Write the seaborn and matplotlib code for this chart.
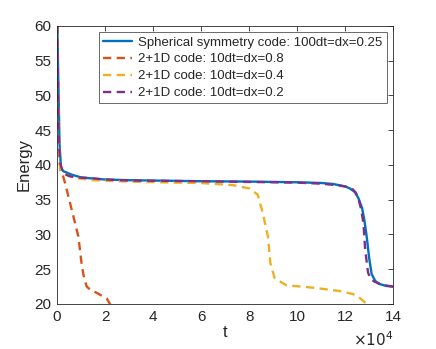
import matplotlib
matplotlib.use('Agg')
import matplotlib.pyplot as plt
import seaborn as sns
import pandas as pd
import numpy as np

# energy vs time
t_sph = [0, 500, 1000, 1600, 2500, 4000, 6000, 8000, 10000, 13000, 16000, 20000,
         30000, 40000, 60000, 80000, 100000, 110000, 115000, 120000, 122000,
         124000, 125500, 127000, 128000, 129000, 130000, 131000, 132500, 134000,
         137000, 140000]
e_sph = [62, 52, 43, 39.6, 39.1, 38.9, 38.6, 38.4, 38.2, 38.1, 38.0, 37.9,
         37.8, 37.75, 37.65, 37.6, 37.5, 37.4, 37.25, 36.9, 36.6,
         36.1, 35.2, 33.8, 32.0, 29.5, 26.5, 24.3, 23.3, 22.9,
         22.6, 22.5]

t_08 = [0, 400, 900, 1400, 1950, 3300, 5400, 7000, 8850, 10260, 11300, 12340,
        14000, 16500, 18500, 20650, 22000, 23000]
e_08 = [62, 50, 41, 39.2, 39.0, 37.4, 34.5, 32.3, 29.7, 25.6, 23.6, 22.5,
        22.0, 21.6, 21.2, 20.8, 20.0, 19.0]

t_04 = [0, 400, 900, 1400, 2500, 5000, 8000, 15000, 30000, 50000, 59400,
        73100, 80200, 83600, 85700, 87800, 88800, 90600, 95400, 107900,
        118900, 124500, 128700, 130000]
e_04 = [62, 50, 41, 39.3, 38.8, 38.4, 38.1, 37.8, 37.6, 37.45, 37.4,
        37.1, 36.6, 35.7, 33.0, 29.7, 25.9, 23.7, 22.7, 22.3,
        21.8, 21.3, 20.1, 19.5]

t_02 = [0, 400, 800, 1300, 2600, 5000, 8000, 13700, 20000, 30000, 60000,
        80000, 100000, 110000, 116000, 120000, 122800, 124400, 125600, 126700,
        127600, 128300, 129500, 130600, 132200, 136000, 140000]
e_02 = [62, 50, 43, 40.2, 38.8, 38.4, 38.2, 38.1, 37.9, 37.75, 37.65,
        37.55, 37.45, 37.3, 37.1, 36.9, 36.6, 36.0, 35.0, 33.5,
        31.5, 27.8, 24.5, 23.6, 23.2, 22.7, 22.5]

labels = ['Spherical symmetry code: 100dt=dx=0.25',
          '2+1D code: 10dt=dx=0.8',
          '2+1D code: 10dt=dx=0.4',
          '2+1D code: 10dt=dx=0.2']
colors = ['#0072BD', '#D95319', '#EDB120', '#7E2F8E']

sns.set_style('white')
plt.rcParams['font.family'] = ['Liberation Sans', 'DejaVu Sans']

fig = plt.figure(figsize=(4.36, 3.49), dpi=100)
ax = fig.add_axes([0.131, 0.129, 0.771, 0.797])

series = [(t_sph, e_sph), (t_08, e_08), (t_04, e_04), (t_02, e_02)]
for i, (t, e) in enumerate(series):
    df = pd.DataFrame({'t': t, 'E': e})
    if i == 0:
        sns.lineplot(data=df, x='t', y='E', ax=ax, color=colors[i], lw=1.7,
                     label=labels[i], sort=False)
    else:
        sns.lineplot(data=df, x='t', y='E', ax=ax, color=colors[i], lw=1.7,
                     label=labels[i], sort=False, dashes=False,
                     linestyle=(0, (3.5, 2.3)))

ax.set_xlim(0, 140000)
ax.set_ylim(20, 60)
xt = np.arange(0, 140001, 20000)
ax.set_xticks(xt)
ax.set_xticklabels([str(int(v / 10000)) for v in xt])
ax.set_yticks(np.arange(20, 61, 5))
ax.tick_params(direction='in', length=3.5, width=0.6, top=True, right=True,
               labelsize=11, colors='#262626', pad=4)
for s in ax.spines.values():
    s.set_color('#262626')
    s.set_linewidth(0.6)
ax.set_xlabel('t', fontsize=12, color='#262626', labelpad=1)
ax.set_ylabel('Energy', fontsize=12, color='#262626', labelpad=2)
ax.text(1.0, -0.095, r'$\times10^4$', transform=ax.transAxes, ha='right',
        va='top', fontsize=11, color='#262626')

leg = ax.legend(loc='upper right', fontsize=9.5, frameon=True, fancybox=False,
                edgecolor='#262626', borderaxespad=0.5, handlelength=2.2,
                labelspacing=0.35, borderpad=0.3, handletextpad=0.5)
leg.get_frame().set_linewidth(0.6)

fig.savefig('out.png', dpi=100)
